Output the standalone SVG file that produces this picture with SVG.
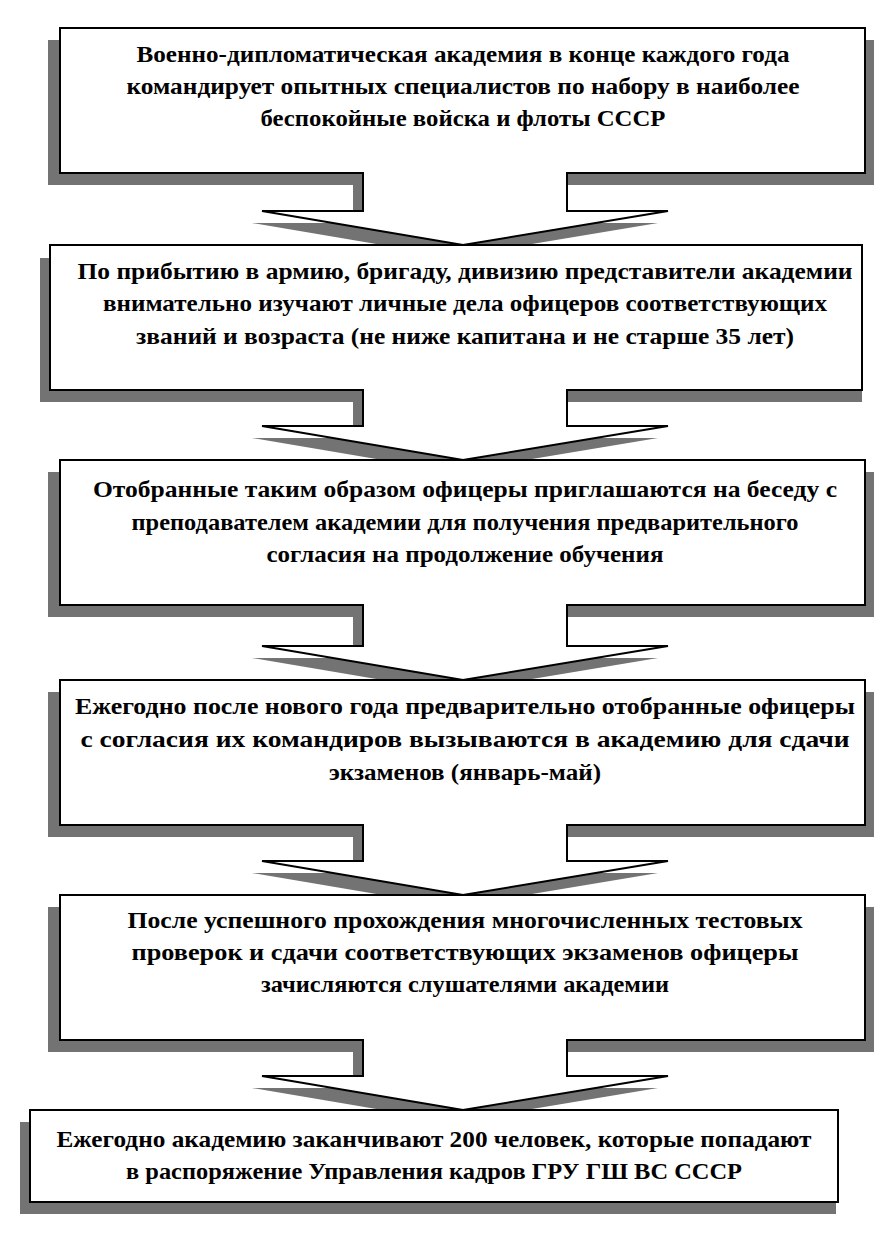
<svg xmlns="http://www.w3.org/2000/svg" width="892" height="1233" viewBox="0 0 892 1233" font-family="'Liberation Serif', 'DejaVu Serif', serif">
<style>
.sh{fill:#737373}
.bx{fill:#fff;stroke:#000;stroke-width:2}
.ar{fill:#fff;stroke:none}
.al{fill:none;stroke:#000;stroke-width:2;stroke-linejoin:miter}
.t{font-weight:bold;font-size:23px;fill:#000;text-anchor:middle}
</style>
<rect width="892" height="1233" fill="#fff"/>
<g id="shadows">
<rect class="sh" x="48" y="40" width="826" height="145"/>
<rect class="sh" x="40" y="258" width="822" height="144"/>
<rect class="sh" x="48" y="472" width="826" height="145"/>
<rect class="sh" x="48" y="692" width="826" height="145"/>
<rect class="sh" x="48" y="907" width="826" height="145"/>
<rect class="sh" x="20" y="1122" width="816" height="92"/>
<g transform="translate(-10,12)">
<polygon class="sh" points="363,173 363,211 262,211 463,245 668,211 567,211 567,173"/>
<polygon class="sh" points="363,390 363,426 262,426 463,460 668,426 567,426 567,390"/>
<polygon class="sh" points="363,605 363,646 262,646 463,680 668,646 567,646 567,605"/>
<polygon class="sh" points="363,825 363,861 262,861 463,895 668,861 567,861 567,825"/>
<polygon class="sh" points="363,1040 363,1076 262,1076 463,1110 668,1076 567,1076 567,1040"/>
</g>
</g>
<g id="n1" class="t"><rect class="bx" x="60" y="28" width="805" height="145"/>
<text x="463" y="62" textLength="653" lengthAdjust="spacingAndGlyphs">Военно-дипломатическая академия в конце каждого года</text>
<text x="463" y="94" textLength="673" lengthAdjust="spacingAndGlyphs">командирует опытных специалистов по набору в наиболее</text>
<text x="463" y="126" textLength="405" lengthAdjust="spacingAndGlyphs">беспокойные войска и флоты СССР</text></g>
<g id="n2" class="t"><rect class="bx" x="50" y="245" width="812" height="145"/>
<text x="465" y="279" textLength="775" lengthAdjust="spacingAndGlyphs">По прибытию в армию, бригаду, дивизию представители академии</text>
<text x="465" y="311" textLength="724" lengthAdjust="spacingAndGlyphs">внимательно изучают личные дела офицеров соответствующих</text>
<text x="465" y="344" textLength="658" lengthAdjust="spacingAndGlyphs">званий и возраста (не ниже капитана и не старше 35 лет)</text></g>
<g id="n3" class="t"><rect class="bx" x="60" y="460" width="805" height="145"/>
<text x="465" y="497" textLength="744" lengthAdjust="spacingAndGlyphs">Отобранные таким образом офицеры приглашаются на беседу с</text>
<text x="465" y="530" textLength="667" lengthAdjust="spacingAndGlyphs">преподавателем академии для получения предварительного</text>
<text x="465" y="562" textLength="397" lengthAdjust="spacingAndGlyphs">согласия на продолжение обучения</text></g>
<g id="n4" class="t"><rect class="bx" x="60" y="680" width="805" height="145"/>
<text x="465" y="714" textLength="780" lengthAdjust="spacingAndGlyphs">Ежегодно после нового года предварительно отобранные офицеры</text>
<text x="465" y="747" textLength="769" lengthAdjust="spacingAndGlyphs">с согласия их командиров вызываются в академию для сдачи</text>
<text x="465" y="780" textLength="272" lengthAdjust="spacingAndGlyphs">экзаменов (январь-май)</text></g>
<g id="n5" class="t"><rect class="bx" x="60" y="895" width="805" height="145"/>
<text x="465" y="928" textLength="675" lengthAdjust="spacingAndGlyphs">После успешного прохождения многочисленных тестовых</text>
<text x="465" y="960" textLength="667" lengthAdjust="spacingAndGlyphs">проверок и сдачи соответствующих экзаменов офицеры</text>
<text x="465" y="992" textLength="408" lengthAdjust="spacingAndGlyphs">зачисляются слушателями академии</text></g>
<g id="n6" class="t"><rect class="bx" x="30" y="1110" width="808" height="92"/>
<text x="434" y="1147" textLength="755" lengthAdjust="spacingAndGlyphs">Ежегодно академию заканчивают 200 человек, которые попадают</text>
<text x="434" y="1179" textLength="616" lengthAdjust="spacingAndGlyphs">в распоряжение Управления кадров ГРУ ГШ ВС СССР</text></g>
<g id="connectors">
<polygon class="ar" points="364,171 364,211 262,211 463,245 668,211 566,211 566,171"/>
<polyline class="al" points="363,173 363,211 262,211 463,245 668,211 567,211 567,173"/>
<polygon class="ar" points="364,388 364,426 262,426 463,460 668,426 566,426 566,388"/>
<polyline class="al" points="363,390 363,426 262,426 463,460 668,426 567,426 567,390"/>
<polygon class="ar" points="364,603 364,646 262,646 463,680 668,646 566,646 566,603"/>
<polyline class="al" points="363,605 363,646 262,646 463,680 668,646 567,646 567,605"/>
<polygon class="ar" points="364,823 364,861 262,861 463,895 668,861 566,861 566,823"/>
<polyline class="al" points="363,825 363,861 262,861 463,895 668,861 567,861 567,825"/>
<polygon class="ar" points="364,1038 364,1076 262,1076 463,1110 668,1076 566,1076 566,1038"/>
<polyline class="al" points="363,1040 363,1076 262,1076 463,1110 668,1076 567,1076 567,1040"/>
</g>
</svg>
